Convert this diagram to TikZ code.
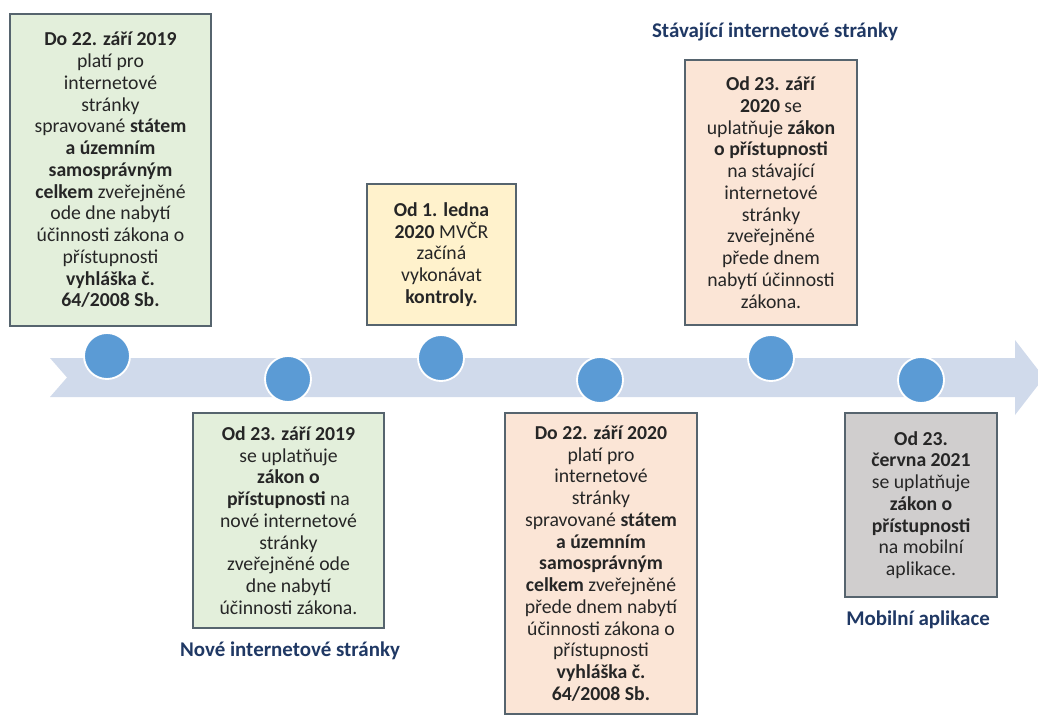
\documentclass[tikz,border=0pt]{standalone}
\usepackage{fontspec}
\setmainfont{Carlito}
\definecolor{boxline}{HTML}{56646E}
\definecolor{greenfill}{HTML}{E3EFDB}
\definecolor{yellowfill}{HTML}{FFF2CC}
\definecolor{peachfill}{HTML}{FBE5D6}
\definecolor{grayfill}{HTML}{D0CECE}
\definecolor{bandcol}{HTML}{D0DAEB}
\definecolor{dotcol}{HTML}{5B9BD5}
\definecolor{labelcol}{HTML}{1F3864}
\definecolor{txtcol}{HTML}{262626}
\tikzset{
  infobox/.style 2 args={draw=boxline, line width=1.2pt, rectangle, inner sep=0pt,
    align=center, text=txtcol, font=\fontsize{14.8}{16.3}\selectfont,
    minimum width=#1*0.75pt, minimum height=#2*0.75pt},
  dot/.style={circle, fill=dotcol, draw=white, line width=1.4pt, minimum size=46*0.75pt, inner sep=0pt},
  tlabel/.style={text=labelcol, font=\fontsize{15.7}{18}\selectfont\bfseries}
}
\begin{document}
\begin{tikzpicture}[x=0.75pt,y=-0.75pt]
\useasboundingbox (0,0) rectangle (1038,717);
\clip (0,0) rectangle (1038,717);
% band arrow
\fill[bandcol] (50,358) -- (1015,358) -- (1015,340) -- (1044,377.5) -- (1015,415) -- (1015,397) -- (50,397) -- (67,377.5) -- cycle;
% dots
\node[dot] (d1) at (107,356) {};
\node[dot] (d2) at (288,379) {};
\node[dot] (d3) at (441,358) {};
\node[dot] (d4) at (600,380) {};
\node[dot] (d5) at (771,358) {};
\node[dot] (d6) at (921,380) {};
% boxes
\node[infobox={201}{312}, fill=greenfill] (b1) at (110.5,170) {\textbf{Do 22. září 2019}\\ platí pro\\ internetové\\ stránky\\ spravované \textbf{státem}\\ \textbf{a územním}\\ \textbf{samosprávným}\\ \textbf{celkem} zveřejněné\\ ode dne nabytí\\ účinnosti zákona o\\ přístupnosti\\ \textbf{vyhláška č.}\\ \textbf{64/2008 Sb.}};
\node[infobox={149}{141}, fill=yellowfill] (b3) at (441.5,254.5) {\textbf{Od 1. ledna}\\ \textbf{2020} MVČR\\ začíná\\ vykonávat\\ \textbf{kontroly.}};
\node[infobox={172}{265}, fill=peachfill] (b5) at (771,192.5) {\textbf{Od 23. září}\\ \textbf{2020} se\\ uplatňuje \textbf{zákon}\\ \textbf{o přístupnosti}\\ na stávající\\ internetové\\ stránky\\ zveřejněné\\ přede dnem\\ nabytí účinnosti\\ zákona.};
\node[infobox={191}{215}, fill=greenfill] (b2) at (288.5,520.5) {\textbf{Od 23. září 2019}\\ se uplatňuje\\ \textbf{zákon o}\\ \textbf{přístupnosti} na\\ nové internetové\\ stránky\\ zveřejněné ode\\ dne nabytí\\ účinnosti zákona.};
\node[infobox={192}{301}, fill=peachfill] (b4) at (601,563.5) {\textbf{Do 22. září 2020}\\ platí pro\\ internetové\\ stránky\\ spravované \textbf{státem}\\ \textbf{a územním}\\ \textbf{samosprávným}\\ \textbf{celkem} zveřejněné\\ přede dnem nabytí\\ účinnosti zákona o\\ přístupnosti\\ \textbf{vyhláška č.}\\ \textbf{64/2008 Sb.}};
\node[infobox={152}{184}, fill=grayfill] (b6) at (921,505) {\textbf{Od 23.}\\ \textbf{června 2021}\\ se uplatňuje\\ \textbf{zákon o}\\ \textbf{přístupnosti}\\ na mobilní\\ aplikace.};
% labels
\node[tlabel] (l1) at (775,32) {Stávající internetové stránky};
\node[tlabel] (l2) at (290,651) {Nové internetové stránky};
\node[tlabel] (l3) at (918,620) {Mobilní aplikace};
\end{tikzpicture}
\end{document}
